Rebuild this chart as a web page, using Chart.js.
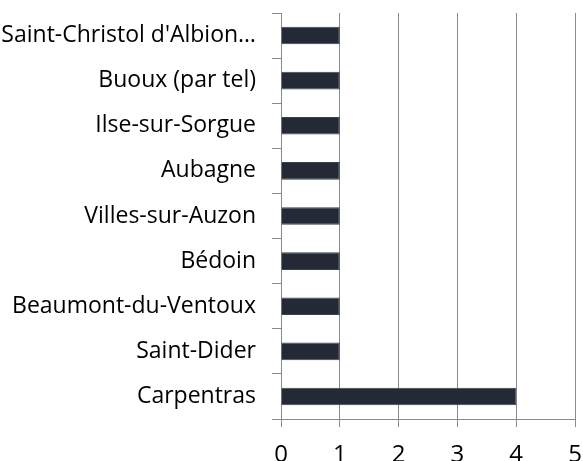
<!DOCTYPE html>
<html><head><meta charset="utf-8">
<script src="https://cdn.jsdelivr.net/npm/chart.js@4.4.0/dist/chart.umd.min.js"></script>
<style>html,body{margin:0;padding:0;overflow:hidden;background:#fff;width:583px;height:461px}#w{width:583px;height:476px;position:relative}</style>
</head><body><div id="w"><canvas id="c"></canvas></div>
<script>
const categories = ["Saint-Christol d'Albion…", "Buoux (par tel)", "Ilse-sur-Sorgue", "Aubagne", "Villes-sur-Auzon", "Bédoin", "Beaumont-du-Ventoux", "Saint-Dider", "Carpentras"];
const values = [1, 1, 1, 1, 1, 1, 1, 1, 4];
const xTicks = [0, 1, 2, 3, 4, 5];

Chart.defaults.font.family = "'Open Sans', 'Liberation Sans', sans-serif";
new Chart(document.getElementById('c'), {
  type: 'bar',
  data: { labels: categories, datasets: [{ data: values, backgroundColor: '#232a35', borderColor: '#3c424c', borderWidth: 1, categoryPercentage: 1, barPercentage: 0.39 }] },
  options: {
    indexAxis: 'y', responsive: true, maintainAspectRatio: false, animation: false,
    layout: { padding: { top: 13, right: 8, left: 0, bottom: 0 } },
    plugins: { legend: { display: false }, tooltip: { enabled: false } },
    scales: {
      x: {
        min: 0, max: 5,
        afterBuildTicks: s => { s.ticks = xTicks.map(v => ({ value: v })); },
        grid: { color: '#8a8a8a', lineWidth: 1, drawTicks: true, tickLength: 8, tickColor: '#8a8a8a' },
        border: { display: true, color: '#8a8a8a' },
        ticks: { color: '#000', font: { size: 24 }, padding: 14, maxRotation: 0 },
        afterFit: s => { s.height = 57; s.paddingLeft = 0; s.paddingRight = 0; }
      },
      y: {
        grid: { drawOnChartArea: false, drawTicks: true, tickLength: 9, offset: true, color: '#8a8a8a' },
        border: { display: true, color: '#8a8a8a' },
        ticks: { color: '#000', font: { size: 23 }, padding: 16, autoSkip: false },
        afterFit: s => { s.width = 281; s.paddingTop = 0; s.paddingBottom = 0; }
      }
    }
  }
});
</script></body></html>
